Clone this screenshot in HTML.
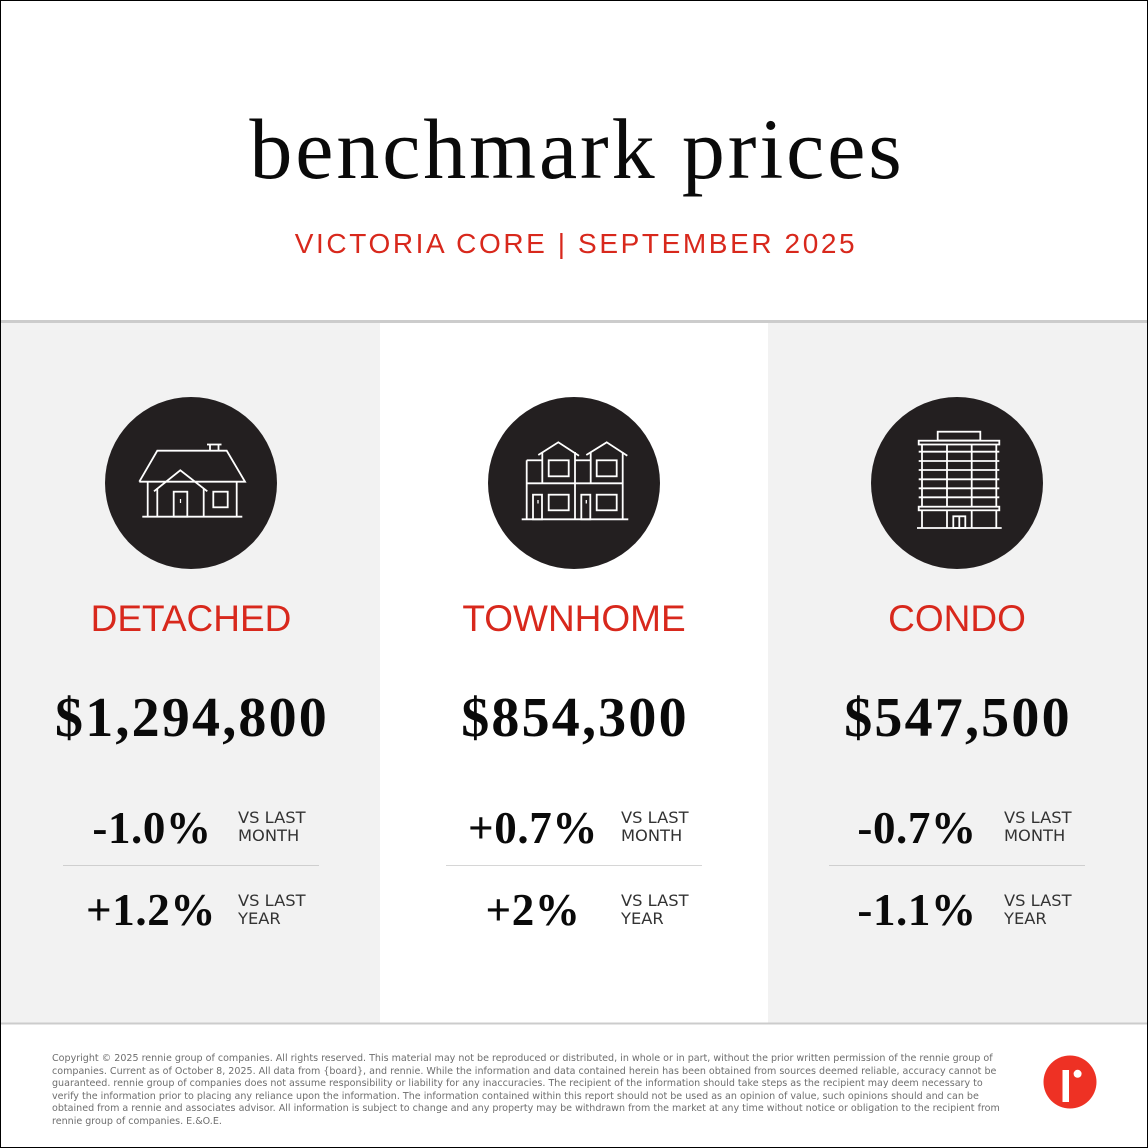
<!DOCTYPE html>
<html><head><meta charset="utf-8">
<style>
html,body{margin:0;padding:0;}
body{width:1148px;height:1148px;position:relative;overflow:hidden;background:#fff;}
.a{position:absolute;white-space:nowrap;}
.title{font-family:"Liberation Serif",serif;font-size:86px;line-height:86px;color:#0a0a0a;left:0;width:1148px;text-align:center;top:106px;letter-spacing:2.9px;padding-left:3px;}
.sub{font-family:"Liberation Sans",sans-serif;font-size:28px;line-height:28px;color:#d8281c;left:0;width:1148px;text-align:center;top:230px;letter-spacing:2.6px;padding-left:2px;}
.cat{font-family:"Liberation Sans",sans-serif;font-size:37px;line-height:37px;color:#d8281c;width:300px;text-align:center;top:600px;}
.price{font-family:"Liberation Serif",serif;font-weight:bold;font-size:56px;line-height:56px;color:#0a0a0a;width:360px;text-align:center;top:690px;letter-spacing:2.2px;padding-left:2px;}
.pct{font-family:"Liberation Serif",serif;font-weight:bold;font-size:45px;line-height:45px;color:#0a0a0a;width:180px;text-align:center;letter-spacing:0.6px;}
.lbl{font-family:"DejaVu Sans",sans-serif;font-size:16.3px;line-height:18px;color:#333;}
.foot{font-family:"DejaVu Sans",sans-serif;font-size:9.55px;line-height:12.6px;color:#6e6e6e;left:52px;top:1053px;}
</style></head>
<body>
<svg class="a" style="left:0;top:0" width="1148" height="1148" viewBox="0 0 1148 1148">
  <rect x="0" y="0" width="1148" height="1148" fill="#fff"/>
  <rect x="0" y="323" width="380" height="700" fill="#f2f2f2"/>
  <rect x="768" y="323" width="380" height="700" fill="#f2f2f2"/>
  <rect x="0" y="320" width="1148" height="3" fill="#cccccc"/>
  <rect x="0" y="1022.5" width="1148" height="2" fill="#cccccc"/>
  <rect x="0.5" y="0.5" width="1147" height="1147" fill="none" stroke="#000" stroke-width="1"/>
  <line x1="63" y1="865.5" x2="319" y2="865.5" stroke="#cfcfcf" stroke-width="1"/>
  <line x1="446" y1="865.5" x2="702" y2="865.5" stroke="#d6d6d6" stroke-width="1"/>
  <line x1="829" y1="865.5" x2="1085" y2="865.5" stroke="#cfcfcf" stroke-width="1"/>
  <circle cx="191" cy="483" r="86" fill="#231f20"/>
  <circle cx="574" cy="483" r="86" fill="#231f20"/>
  <circle cx="957" cy="483" r="86" fill="#231f20"/>
  <g fill="none" stroke="#fff" stroke-width="1.8" stroke-linejoin="miter">
    <polyline points="139.3,481.7 157.3,450.7 226.7,450.7 245,481.7 139.3,481.7"/>
    <line x1="207" y1="444.5" x2="221.5" y2="444.5"/>
    <line x1="210" y1="444.5" x2="210" y2="450.7"/>
    <line x1="218.5" y1="444.5" x2="218.5" y2="450.7"/>
    <polyline points="154,491.3 180.3,470.3 207.3,491.3"/>
    <line x1="147.7" y1="481.7" x2="147.7" y2="516.7"/>
    <line x1="157.3" y1="488" x2="157.3" y2="516.7"/>
    <line x1="203.7" y1="488.5" x2="203.7" y2="516.7"/>
    <line x1="236.7" y1="481.7" x2="236.7" y2="516.7"/>
    <line x1="142.3" y1="516.7" x2="242.3" y2="516.7"/>
    <rect x="173.7" y="491.7" width="13.6" height="25"/>
    <line x1="180.5" y1="499" x2="180.5" y2="503" stroke-width="1.2"/>
    <rect x="213.3" y="491.7" width="14.4" height="15.6"/>
    <polyline points="538.3,455 558.3,442.3 579,455.7"/>
    <polyline points="586.3,455 606.7,442.3 627.3,455.7"/>
    <line x1="526.7" y1="460.3" x2="526.7" y2="519.3"/>
    <line x1="542.3" y1="452" x2="542.3" y2="483.3"/>
    <line x1="575" y1="452" x2="575" y2="519.3"/>
    <line x1="590.7" y1="452" x2="590.7" y2="483.3"/>
    <line x1="622.7" y1="452" x2="622.7" y2="519.3"/>
    <line x1="526.7" y1="460.3" x2="542.3" y2="460.3"/>
    <line x1="575" y1="460.3" x2="590.7" y2="460.3"/>
    <line x1="526.7" y1="483.3" x2="622.7" y2="483.3"/>
    <rect x="548.7" y="460.3" width="20" height="16"/>
    <rect x="596.7" y="460.3" width="20" height="16"/>
    <rect x="548.7" y="494.7" width="20" height="15.6"/>
    <rect x="596.7" y="494.7" width="20" height="15.6"/>
    <rect x="533" y="494.7" width="9" height="24.6"/>
    <rect x="581.3" y="494.7" width="9" height="24.6"/>
    <line x1="538" y1="500" x2="538" y2="503.5" stroke-width="1.3"/>
    <line x1="586.3" y1="500" x2="586.3" y2="503.5" stroke-width="1.3"/>
    <line x1="521.7" y1="519.3" x2="628.3" y2="519.3"/>
    <rect x="937.7" y="431.7" width="42.6" height="8.8"/>
    <rect x="918.7" y="440.7" width="80.6" height="3.8"/>
    <line x1="922" y1="444.5" x2="922" y2="528"/>
    <line x1="947" y1="444.5" x2="947" y2="528"/>
    <line x1="971.7" y1="444.5" x2="971.7" y2="528"/>
    <line x1="996.3" y1="444.5" x2="996.3" y2="528"/>
    <line x1="918.7" y1="451.7" x2="999.3" y2="451.7"/>
    <line x1="918.7" y1="461" x2="999.3" y2="461"/>
    <line x1="918.7" y1="470" x2="999.3" y2="470"/>
    <line x1="918.7" y1="479.3" x2="999.3" y2="479.3"/>
    <line x1="918.7" y1="488.3" x2="999.3" y2="488.3"/>
    <line x1="918.7" y1="497.3" x2="999.3" y2="497.3"/>
    <rect x="918.7" y="506.7" width="80.6" height="3.6" fill="#231f20"/>
    <rect x="953.3" y="516.3" width="12" height="11.7" fill="#231f20"/>
    <line x1="959.3" y1="516.3" x2="959.3" y2="528"/>
    <line x1="917" y1="528" x2="1001.7" y2="528"/>
  </g>
  <circle cx="1070" cy="1082" r="26.5" fill="#ee3124"/>
  <rect x="1062.5" y="1070" width="6.5" height="32" fill="#fff"/>
  <circle cx="1077.6" cy="1073.8" r="4" fill="#fff"/>
</svg>

<div class="a title">benchmark prices</div>
<div class="a sub">VICTORIA CORE | SEPTEMBER 2025</div>

<div class="a cat" style="left:41px">DETACHED</div>
<div class="a cat" style="left:424px">TOWNHOME</div>
<div class="a cat" style="left:807px">CONDO</div>

<div class="a price" style="left:10px">$1,294,800</div>
<div class="a price" style="left:393px">$854,300</div>
<div class="a price" style="left:776px">$547,500</div>

<div class="a pct" style="left:62px;top:806px">-1.0%</div>
<div class="a pct" style="left:61px;top:888px">+1.2%</div>
<div class="a pct" style="left:443px;top:806px">+0.7%</div>
<div class="a pct" style="left:443px;top:888px">+2%</div>
<div class="a pct" style="left:827px;top:806px">-0.7%</div>
<div class="a pct" style="left:827px;top:888px">-1.1%</div>

<div class="a lbl" style="left:238px;top:809px">VS LAST<br>MONTH</div>
<div class="a lbl" style="left:238px;top:892px">VS LAST<br>YEAR</div>
<div class="a lbl" style="left:621px;top:809px">VS LAST<br>MONTH</div>
<div class="a lbl" style="left:621px;top:892px">VS LAST<br>YEAR</div>
<div class="a lbl" style="left:1004px;top:809px">VS LAST<br>MONTH</div>
<div class="a lbl" style="left:1004px;top:892px">VS LAST<br>YEAR</div>

<div class="a foot">Copyright © 2025 rennie group of companies. All rights reserved. This material may not be reproduced or distributed, in whole or in part, without the prior written permission of the rennie group of<br>companies. Current as of October 8, 2025. All data from {board}, and rennie. While the information and data contained herein has been obtained from sources deemed reliable, accuracy cannot be<br>guaranteed. rennie group of companies does not assume responsibility or liability for any inaccuracies. The recipient of the information should take steps as the recipient may deem necessary to<br>verify the information prior to placing any reliance upon the information. The information contained within this report should not be used as an opinion of value, such opinions should and can be<br>obtained from a rennie and associates advisor. All information is subject to change and any property may be withdrawn from the market at any time without notice or obligation to the recipient from<br>rennie group of companies. E.&amp;O.E.</div>
</body></html>
